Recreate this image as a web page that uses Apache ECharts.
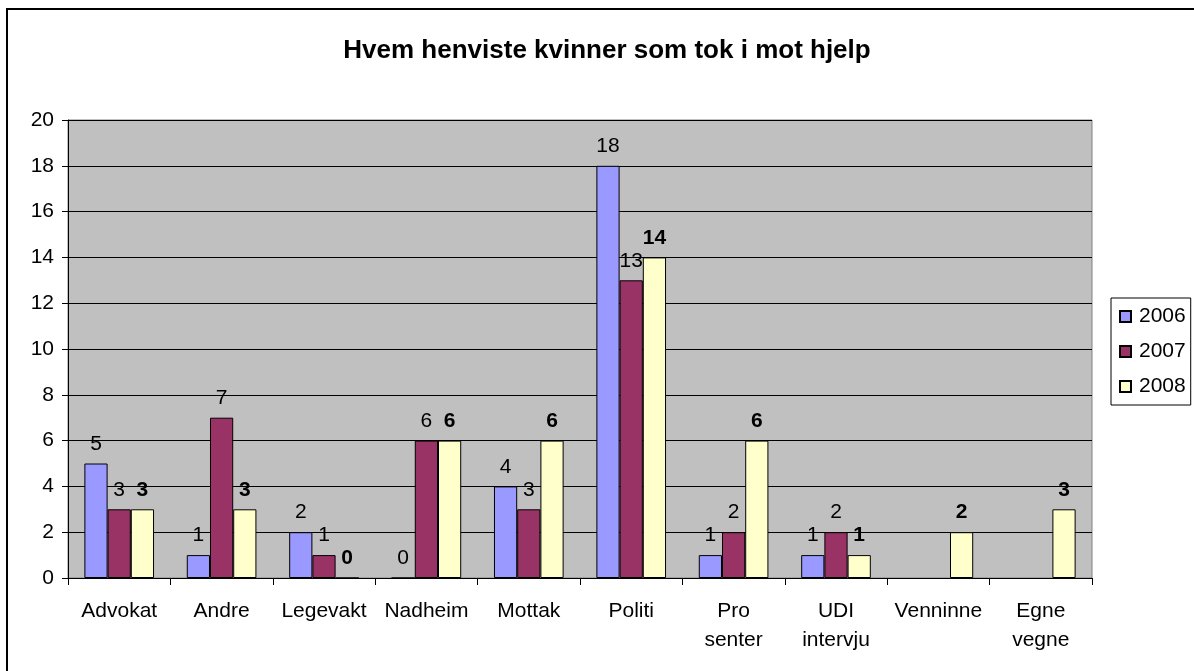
<!DOCTYPE html>
<html>
<head>
<meta charset="utf-8">
<script src="https://cdn.jsdelivr.net/npm/echarts@6/dist/echarts.min.js"></script>
<style>
  html, body { margin: 0; padding: 0; background: #fff; }
  #frame { position: absolute; left: 6px; top: 8px; width: 1188px; height: 663px;
           border-top: 2px solid #000; border-left: 2px solid #000; box-sizing: border-box; }
  #chart { width: 1194px; height: 671px; position: absolute; left: 0; top: 0; }
</style>
</head>
<body>
<div id="frame"></div>
<div id="chart"></div>
<script>
// kategorier og verdier lest av figuren
var categories = ["Advokat", "Andre", "Legevakt", "Nadheim", "Mottak", "Politi", "Pro\nsenter", "UDI\nintervju", "Venninne", "Egne\nvegne"];
var years = ["2006", "2007", "2008"];
var data2006 = [5, 1, 2, 0, 4, 18, 1, 1, null, null];
var data2007 = [3, 7, 1, 6, 3, 13, 2, 2, null, null];
var data2008 = [3, 3, 0, 6, 6, 14, 6, 1, 2, 3];
var yTicks = [0, 2, 4, 6, 8, 10, 12, 14, 16, 18, 20];

var colors = ["#9999ff", "#993366", "#ffffcc"];
var font = "Liberation Sans, Arial, sans-serif";

function makeSeries(name, values, color, bold) {
  return {
    name: name,
    type: "bar",
    barGap: "0%",
    barCategoryGap: "32%",
    data: values,
    itemStyle: { color: color, borderColor: "#000", borderWidth: 1 },
    label: {
      show: true,
      position: "top",
      distance: 9,
      color: "#000",
      fontFamily: font,
      fontSize: 21,
      fontWeight: bold ? "bold" : "normal"
    }
  };
}

var option = {
  animation: false,
  title: {
    text: "Hvem henviste kvinner som tok i mot hjelp",
    left: 602,
    top: 33,
    textAlign: "center",
    textStyle: { fontFamily: font, fontSize: 26, fontWeight: "bold", color: "#000" }
  },
  legend: {
    orient: "vertical",
    left: 1111,
    top: 298,
    itemWidth: 11,
    itemHeight: 11,
    itemGap: 14,
    padding: [8, 5, 8, 8],
    borderColor: "#000",
    borderWidth: 1,
    icon: "rect",
    data: years,
    textStyle: { fontFamily: font, fontSize: 21, color: "#000", padding: [0, 0, 0, 3] }
  },
  grid: {
    left: 68,
    right: 102,
    top: 120,
    bottom: 93,
    show: true,
    backgroundColor: "#c0c0c0",
    borderColor: "#808080",
    borderWidth: 1
  },
  xAxis: {
    type: "category",
    data: categories,
    axisLine: { lineStyle: { color: "#000", width: 1 } },
    axisTick: { show: true, length: 7, alignWithLabel: false, lineStyle: { color: "#000" } },
    axisLabel: { color: "#000", fontFamily: font, fontSize: 21, margin: 19, lineHeight: 29, interval: 0 },
    splitLine: { show: false }
  },
  yAxis: {
    type: "value",
    min: yTicks[0],
    max: yTicks[yTicks.length - 1],
    interval: 2,
    axisLine: { show: true, lineStyle: { color: "#000", width: 1 } },
    axisTick: { show: true, length: 6, lineStyle: { color: "#000" } },
    axisLabel: { color: "#000", fontFamily: font, fontSize: 21, margin: 14 },
    splitLine: { show: true, lineStyle: { color: "#000", width: 1 } }
  },
  series: [
    makeSeries(years[0], data2006, colors[0], false),
    makeSeries(years[1], data2007, colors[1], false),
    makeSeries(years[2], data2008, colors[2], true)
  ]
};

var chart = echarts.init(document.getElementById("chart"));
chart.setOption(option);
</script>
</body>
</html>
